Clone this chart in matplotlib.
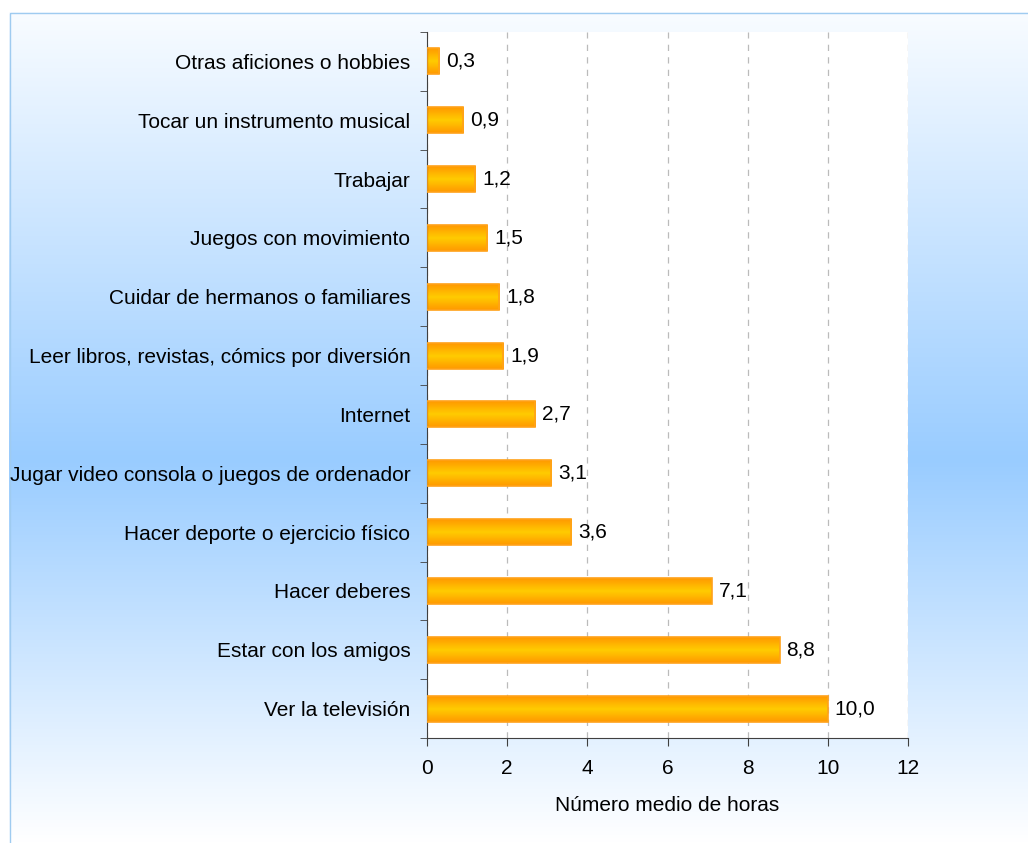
import numpy as np
import matplotlib
matplotlib.use("Agg")
import matplotlib.pyplot as plt
from matplotlib.colors import LinearSegmentedColormap
from matplotlib.patches import Rectangle

plt.rcParams['font.family'] = ['Liberation Sans', 'DejaVu Sans']

categories = [
    "Ver la televisión",
    "Estar con los amigos",
    "Hacer deberes",
    "Hacer deporte o ejercicio físico",
    "Jugar video consola o juegos de ordenador",
    "Internet",
    "Leer libros, revistas, cómics por diversión",
    "Cuidar de hermanos o familiares",
    "Juegos con movimiento",
    "Trabajar",
    "Tocar un instrumento musical",
    "Otras aficiones o hobbies",
]
values = [10.0, 8.8, 7.1, 3.6, 3.1, 2.7, 1.9, 1.8, 1.5, 1.2, 0.9, 0.3]
xticks = [0, 2, 4, 6, 8, 10, 12]
xlabel = "Número medio de horas"

W, H = 1028, 843
FS = 15
fig = plt.figure(figsize=(W / 100, H / 100), dpi=100)

# background gradient axis
bg = fig.add_axes([0, 0, 1, 1])
bg.axis('off')
top = np.array([0.975, 0.988, 1.0])
mid = np.array([0.60, 0.80, 1.0])
bot = np.array([1.0, 1.0, 1.0])
ypx = np.linspace(12, H, 400)
col = np.zeros((400, 1, 3))
for i, y in enumerate(ypx):
    if y < 460:
        t = (y - 12) / (460 - 12)
        col[i, 0] = top + (mid - top) * t
    else:
        t = (y - 460) / (H - 460)
        col[i, 0] = mid + (bot - mid) * t
bg.imshow(col, extent=[9, W + 5, H, 12], aspect='auto', zorder=0)
bg.add_patch(Rectangle((9.5, 12.5), W + 20, H + 40, fill=False,
                       edgecolor='#9FCBF0', linewidth=1.0, zorder=1))
bg.set_xlim(0, W)
bg.set_ylim(H, 0)

# main axes
left, right, top_px, bottom_px = 427, 908, 32, 738
ax = fig.add_axes([left / W, 1 - bottom_px / H, (right - left) / W, (bottom_px - top_px) / H])
ax.set_facecolor('white')

ypos = np.arange(len(categories))
bh = 0.44
bars = ax.barh(ypos, values, height=bh, color='none', edgecolor='#FFA21A', linewidth=1.2, zorder=3)

cmap = LinearSegmentedColormap.from_list('og', ['#FF9900', '#FFCC00', '#FF9900'])
grad = np.linspace(0, 1, 64).reshape(-1, 1)
for b in bars:
    x0, y0 = b.get_x(), b.get_y()
    w, h = b.get_width(), b.get_height()
    ax.imshow(grad, cmap=cmap, extent=[x0, x0 + w, y0, y0 + h], aspect='auto',
              interpolation='bicubic', zorder=2)
ax.set_xlim(0, 12)
ax.set_ylim(-0.5, len(categories) - 0.5)

for y, v in zip(ypos, values):
    ax.text(v + 0.17, y, f"{v:.1f}".replace('.', ','), va='center', ha='left', fontsize=FS, zorder=4)

ax.set_xticks(xticks)
ax.set_xticklabels([str(t) for t in xticks], fontsize=FS)
ax.set_yticks(ypos)
ax.set_yticklabels(categories, fontsize=FS)
ax.set_yticks(np.arange(-0.5, len(categories), 1.0), minor=True)
ax.tick_params(axis='y', which='major', length=0, pad=12)
ax.tick_params(axis='y', which='minor', length=5, direction='out', color='#404040')
ax.tick_params(axis='x', length=6, direction='out', pad=9, color='#404040')

ax.grid(axis='x', linestyle=(0, (5, 5)), color='#BBBBBB', linewidth=0.9, zorder=1)
ax.set_axisbelow(True)
for s in ['top', 'right']:
    ax.spines[s].set_visible(False)
ax.spines['left'].set_color('#404040')
ax.spines['bottom'].set_color('#404040')

ax.set_xlabel(xlabel, fontsize=FS, labelpad=13)

fig.savefig('out.png', dpi=100)
